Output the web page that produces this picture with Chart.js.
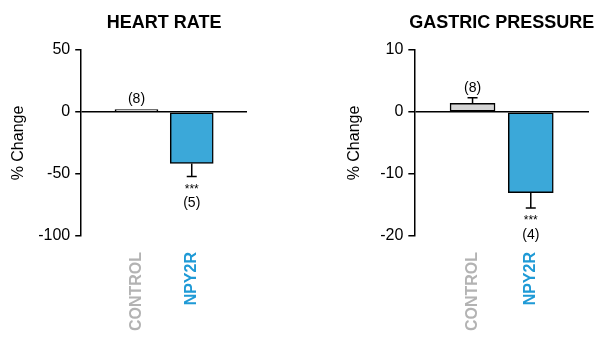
<!DOCTYPE html>
<html>
<head>
<meta charset="utf-8">
<script src="https://cdn.jsdelivr.net/npm/chart.js@4.4.1/dist/chart.umd.min.js"></script>
<style>
  html, body { margin: 0; padding: 0; background: #fff; }
  .panel { position: absolute; top: 0; width: 298px; height: 337px; }
</style>
</head>
<body>
<div class="panel" style="left:0"><canvas id="heartChart"></canvas></div>
<div class="panel" style="left:298px"><canvas id="gastricChart"></canvas></div>
<script>
// groups and values
const groups = ['CONTROL', 'NPY2R'];
const groupColors = ['#d4d4d4', '#3ba8d9'];
const labelColors = ['#b3b3b3', '#1f9ad6'];
const significance = ['', '***'];

const heartMean = [2, -41.5];
const heartErr = [0, 10.5];
const heartN = [8, 5];
const heartTicks = [-100, -50, 0, 50];

const gastricMean = [1.4, -13];
const gastricErr = [0.9, 2.5];
const gastricN = [8, 4];
const gastricTicks = [-20, -10, 0, 10];

const FONT = '"Liberation Sans", Arial, Helvetica, sans-serif';

// pad the category axis with an empty slot on each side
const pad = arr => [null, ...arr, null];

// error bars, n labels, significance stars and the panel title
const annotate = {
  id: 'annotate',
  afterDatasetsDraw(chart, args, opts) {
    const { ctx, chartArea } = chart;
    const yScale = chart.scales.y;
    const meta = chart.getDatasetMeta(0);
    ctx.save();
    opts.mean.forEach((m, i) => {
      const bar = meta.data[i + 1];
      const x = bar.x;
      const sign = m >= 0 ? 1 : -1;
      const yStart = yScale.getPixelForValue(m);
      const yEnd = yScale.getPixelForValue(m + sign * opts.err[i]);
      if (opts.err[i] > 0) {
        ctx.strokeStyle = '#000';
        ctx.lineWidth = 1.5;
        ctx.beginPath();
        ctx.moveTo(x, yStart);
        ctx.lineTo(x, yEnd);
        ctx.moveTo(x - 5, yEnd);
        ctx.lineTo(x + 5, yEnd);
        ctx.stroke();
      }
      ctx.fillStyle = '#000';
      ctx.textAlign = 'center';
      if (sign > 0) {
        ctx.font = '14px ' + FONT;
        ctx.textBaseline = 'bottom';
        ctx.fillText('(' + opts.n[i] + ')', x, yEnd - 3);
      } else {
        ctx.font = '12px ' + FONT;
        ctx.textBaseline = 'top';
        ctx.fillText(significance[i], x, yEnd + 7);
        ctx.font = '14px ' + FONT;
        ctx.fillText('(' + opts.n[i] + ')', x, yEnd + 20);
      }
    });
    ctx.font = 'bold 18px ' + FONT;
    ctx.textAlign = 'center';
    ctx.textBaseline = 'middle';
    ctx.fillText(opts.title, (chartArea.left + chartArea.right) / 2, 23);
    ctx.restore();
  }
};

function makeChart(id, title, mean, err, n, ticks, layout, titlePad, barW) {
  new Chart(document.getElementById(id), {
    type: 'bar',
    data: {
      labels: ['', ...groups, ''],
      datasets: [{
        data: pad(mean),
        backgroundColor: pad(groupColors),
        borderColor: '#000',
        borderWidth: 1.5,
        borderSkipped: false,
        barThickness: barW
      }]
    },
    options: {
      responsive: true,
      maintainAspectRatio: false,
      animation: false,
      layout: { padding: layout },
      plugins: {
        legend: { display: false },
        tooltip: { enabled: false },
        annotate: { mean, err, n, title }
      },
      scales: {
        x: {
          offset: false,
          grid: { display: false, drawTicks: false },
          border: { display: false },
          afterFit: scale => {
            scale.height = 101;
            scale.paddingLeft = 0;
            scale.paddingRight = 0;
          },
          ticks: {
            autoSkip: false,
            minRotation: 90,
            maxRotation: 90,
            padding: 16,
            color: ctx => labelColors[ctx.index - 1] || '#000',
            font: { family: FONT, size: 16, weight: 'bold' }
          }
        },
        y: {
          min: ticks[0],
          max: ticks[ticks.length - 1],
          afterBuildTicks: scale => { scale.ticks = ticks.map(v => ({ value: v })); },
          border: { display: true, color: '#000', width: 1.5 },
          grid: {
            color: ctx => (ctx.tick && ctx.tick.value === 0) ? '#000' : 'rgba(0,0,0,0)',
            lineWidth: 1.5,
            tickColor: '#000',
            tickLength: 6,
            drawTicks: true
          },
          ticks: {
            padding: 5,
            color: '#000',
            font: { family: FONT, size: 16 },
            callback: v => String(v)
          },
          title: {
            display: true,
            text: '% Change',
            color: '#000',
            font: { family: FONT, size: 16 },
            padding: titlePad
          }
        }
      }
    },
    plugins: [annotate]
  });
}

makeChart('heartChart', 'HEART RATE', heartMean, heartErr, heartN, heartTicks,
  { left: 9, right: 51, top: 50, bottom: 0 }, { top: 0, bottom: 5 }, 43);
makeChart('gastricChart', 'GASTRIC PRESSURE', gastricMean, gastricErr, gastricN, gastricTicks,
  { left: 47, right: 7, top: 50, bottom: 0 }, { top: 0, bottom: 11 }, 45);
</script>
</body>
</html>
